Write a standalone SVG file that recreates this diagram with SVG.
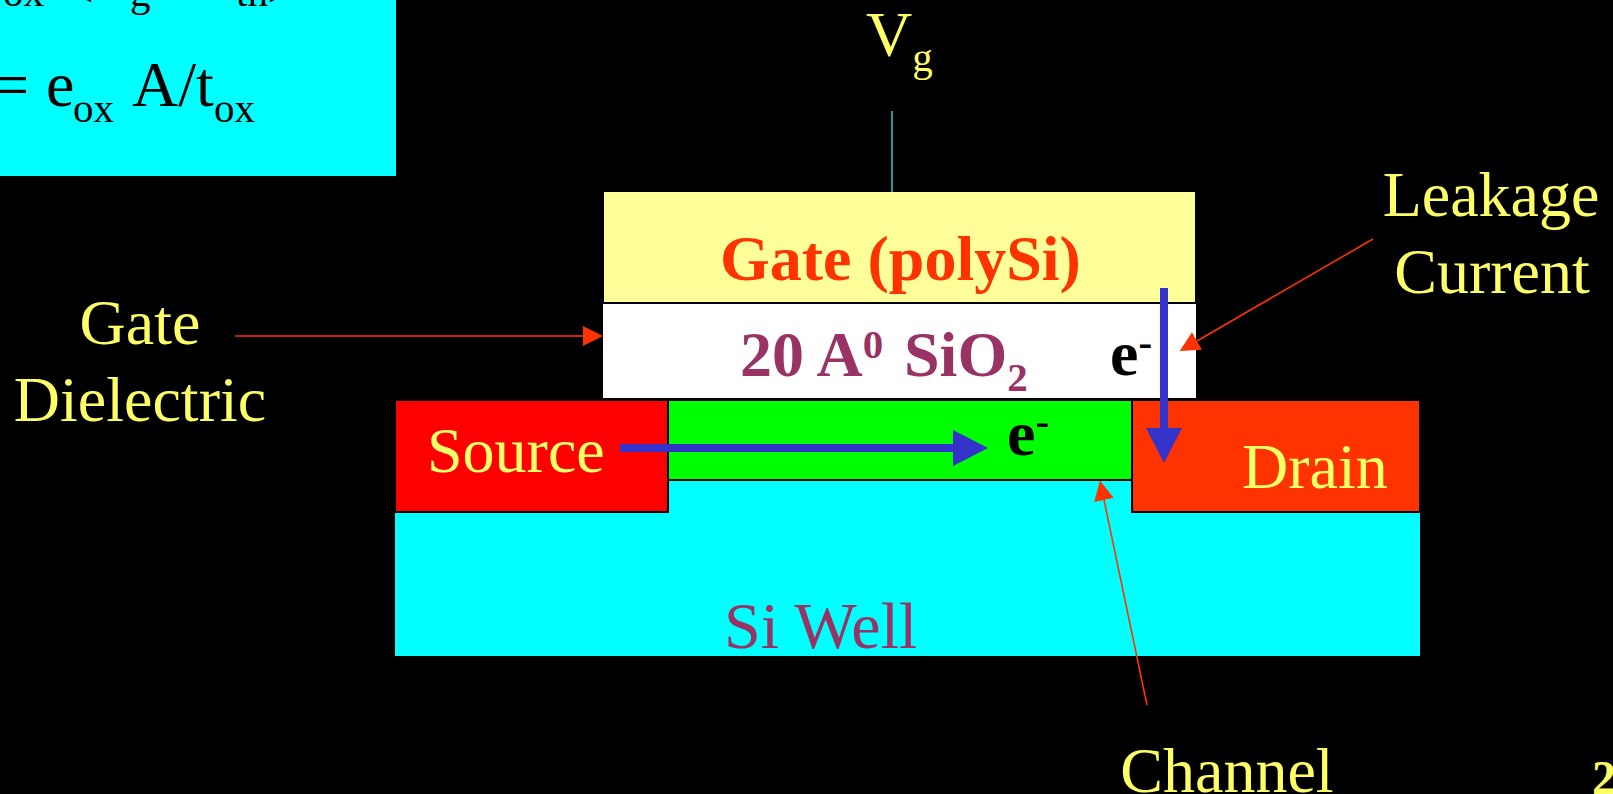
<svg xmlns="http://www.w3.org/2000/svg" width="1613" height="794" viewBox="0 0 1613 794">
<style>
text{font-family:"Liberation Serif","Times New Roman",serif}
.y{fill:#ffff66;font-size:64px}
.m{fill:#993366}
.b{font-weight:bold}
.e{font-size:64px;font-weight:bold;fill:#000}
.pt{fill:none;stroke:#ff3300;stroke-width:1.6}
.bl{fill:none;stroke:#3333cc;stroke-width:8}
</style>
<defs>
<marker id="ra" markerUnits="userSpaceOnUse" markerWidth="22" markerHeight="22" refX="0" refY="10" orient="auto"><path d="M0 0L20 10L0 20Z" fill="#ff3300"/></marker>
<marker id="ba" markerUnits="userSpaceOnUse" markerWidth="36" markerHeight="36" refX="0" refY="18" orient="auto"><path d="M0 0L35 18L0 36Z" fill="#3333cc"/></marker>
</defs>
<rect width="1613" height="794" fill="#000"/>
<g id="formula">
<rect x="0" y="0" width="396" height="176" fill="#00ffff"/>
<text y="6" font-size="41" fill="#000"><tspan x="3">ox</tspan><tspan x="70">&lt;</tspan><tspan x="130">g</tspan><tspan x="236">th&gt;</tspan></text>
<text y="106" font-size="64" fill="#000"><tspan x="-7">=</tspan><tspan x="46">e</tspan><tspan x="73" font-size="41" dy="16">ox</tspan><tspan x="132" dy="-16">A/t</tspan><tspan x="214" font-size="41" dy="16">ox</tspan></text>
</g>
<g id="si-well">
<rect x="395" y="513" width="1025" height="143" fill="#00ffff"/>
<rect x="669" y="481" width="462" height="33" fill="#00ffff"/>
<text class="m" x="724" y="648" font-size="66">Si Well</text>
</g>
<g id="channel-region"><rect x="669" y="401" width="462" height="78" fill="#00ff00"/>
<text class="e" x="1007" y="455">e<tspan font-size="41" dy="-20">-</tspan></text></g>
<g id="source"><rect x="396" y="401" width="271" height="110" fill="#ff0000"/>
<text class="y" x="427" y="472">Source</text></g>
<g id="drain"><rect x="1133" y="401" width="286" height="110" fill="#ff3300"/>
<text class="y" x="1242" y="488">Drain</text></g>
<g id="gate"><rect x="604" y="192" width="591" height="110" fill="#ffff99"/>
<text x="720" y="280" font-size="64" font-weight="bold" fill="#ff3300">Gate (polySi)</text></g>
<g id="dielectric"><rect x="603" y="304" width="593" height="94" fill="#fff"/>
<text class="m b" x="740" y="376" font-size="64">20 A<tspan font-size="41" dy="-18">0</tspan><tspan x="904" dy="18">SiO</tspan><tspan font-size="41" dy="15">2</tspan></text>
<text class="e" x="1110" y="375">e<tspan font-size="41" dy="-19">-</tspan></text></g>
<g id="labels">
<text class="y" x="866" y="56">V<tspan font-size="41" dy="15">g</tspan></text>
<text class="y" x="1491" y="216" text-anchor="middle">Leakage</text>
<text class="y" x="1492" y="293" text-anchor="middle">Current</text>
<text class="y" x="140" y="344" text-anchor="middle">Gate</text>
<text class="y" x="140" y="421" text-anchor="middle">Dielectric</text>
<text class="y" x="1227" y="792" text-anchor="middle">Channel</text>
<text x="1592" y="794" font-size="48" font-weight="bold" fill="#ffff66">2</text>
</g>
<g id="connectors">
<line x1="892" y1="111" x2="892" y2="192" stroke="#33cccc" stroke-width="1.5"/>
<line class="pt" x1="235" y1="336" x2="583" y2="336" marker-end="url(#ra)"/>
<line class="pt" x1="1373" y1="239" x2="1197" y2="341" marker-end="url(#ra)"/>
<line class="pt" x1="1147" y1="705" x2="1104" y2="500" marker-end="url(#ra)"/>
<line class="bl" x1="620" y1="448" x2="953" y2="448" marker-end="url(#ba)"/>
<line class="bl" x1="1164" y1="288" x2="1164" y2="428" marker-end="url(#ba)"/>
</g>
</svg>
